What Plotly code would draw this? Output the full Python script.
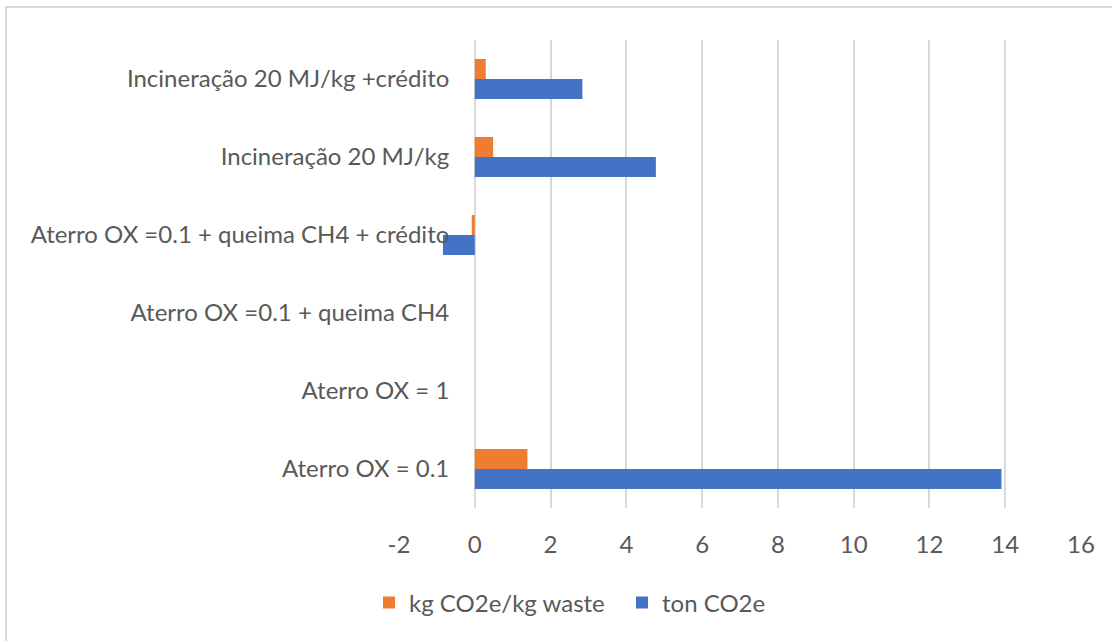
import plotly.graph_objects as go

categories = [
    "Aterro OX = 0.1",
    "Aterro OX = 1",
    "Aterro OX =0.1 + queima CH4",
    "Aterro OX =0.1 + queima CH4 + crédito",
    "Incineração 20 MJ/kg",
    "Incineração 20 MJ/kg +crédito",
]
ton_co2e = [13.9, 0, 0, -0.84, 4.78, 2.84]
kg_per_kg_waste = [1.39, 0, 0, -0.08, 0.485, 0.29]
x_ticks = [-2, 0, 2, 4, 6, 8, 10, 12, 14, 16]
x_tick_text = ["-2", "0", "2", "4", "6", "8", "10", "12", "14", "16"]

FONT = "Lato"
TXT = "#595959"
FS = 24

fig = go.Figure()
fig.add_trace(go.Bar(
    y=categories, x=ton_co2e, orientation="h", name="ton CO2e",
    marker=dict(color="#4472C4", line=dict(width=0)), legendrank=2,
))
fig.add_trace(go.Bar(
    y=categories, x=kg_per_kg_waste, orientation="h", name="kg CO2e/kg waste",
    marker=dict(color="#ED7D31", line=dict(width=0)), legendrank=1,
))

W, H = 1112, 641
L, R, T, B = 399, 1081, 40, 508

def px(x):
    return (x - L) / (R - L)

def py(y):
    return (B - y) / (B - T)

fig.update_layout(
    width=W, height=H,
    margin=dict(l=L, r=W - R, t=T, b=H - B),
    paper_bgcolor="white", plot_bgcolor="white",
    barmode="group", bargap=0.487, bargroupgap=0,
    font=dict(family=FONT, size=FS, color=TXT),
    showlegend=True,
    legend=dict(orientation="h", x=px(369), xanchor="left", y=py(603),
                yanchor="middle", font=dict(size=FS, color=TXT),
                itemwidth=30, entrywidth=208, traceorder="normal"),
    xaxis=dict(range=[-2, 16], tickvals=x_ticks, ticktext=x_tick_text,
               showgrid=True, gridcolor="#D9D9D9", gridwidth=1.5,
               zeroline=False, showline=False, ticks="", ticklabelstandoff=20,
               tickfont=dict(size=FS, color=TXT), fixedrange=True),
    yaxis=dict(type="category", categoryorder="array", categoryarray=categories,
               anchor="free", position=px(474.3), showgrid=False,
               zeroline=False, showline=False, ticks="",
               ticklabelstandoff=25, tickfont=dict(size=FS, color=TXT)),
    shapes=[
        dict(type="line", xref="paper", yref="paper", x0=px(5), x1=px(1112),
             y0=py(7), y1=py(7), line=dict(color="#D9D9D9", width=2)),
        dict(type="line", xref="paper", yref="paper", x0=px(6), x1=px(6),
             y0=py(6), y1=py(641), line=dict(color="#D9D9D9", width=2)),
    ],
)

fig.write_html(
    "out.html",
    config={"displayModeBar": False},
    post_script="document.body.style.margin='0';document.body.style.overflow='hidden';",
)
